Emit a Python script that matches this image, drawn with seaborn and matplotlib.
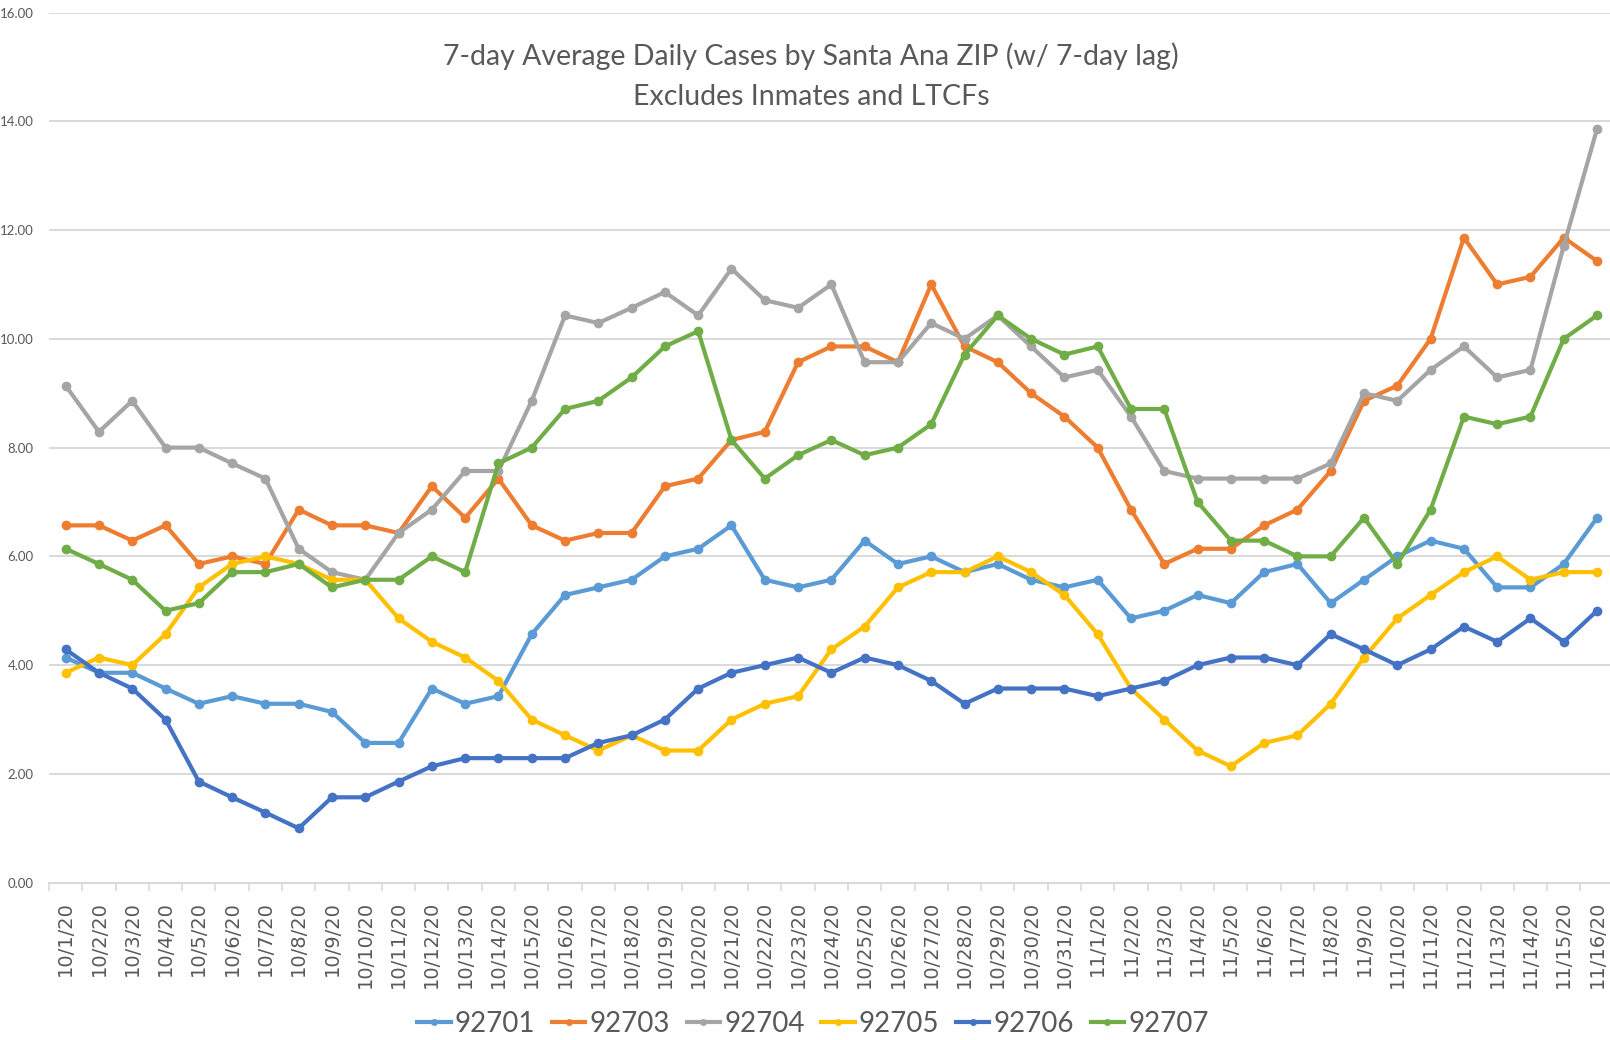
import matplotlib
matplotlib.use("Agg")
import matplotlib.pyplot as plt
from matplotlib import font_manager as fm
from matplotlib.lines import Line2D
from matplotlib.ticker import FixedLocator, NullFormatter
import seaborn as sns
import pandas as pd

dates = ["10/1/20", "10/2/20", "10/3/20", "10/4/20", "10/5/20", "10/6/20", "10/7/20",
         "10/8/20", "10/9/20", "10/10/20", "10/11/20", "10/12/20", "10/13/20", "10/14/20",
         "10/15/20", "10/16/20", "10/17/20", "10/18/20", "10/19/20", "10/20/20", "10/21/20",
         "10/22/20", "10/23/20", "10/24/20", "10/25/20", "10/26/20", "10/27/20", "10/28/20",
         "10/29/20", "10/30/20", "10/31/20", "11/1/20", "11/2/20", "11/3/20", "11/4/20",
         "11/5/20", "11/6/20", "11/7/20", "11/8/20", "11/9/20", "11/10/20", "11/11/20",
         "11/12/20", "11/13/20", "11/14/20", "11/15/20", "11/16/20"]

zip_92701 = [4.14, 3.86, 3.86, 3.57, 3.29, 3.43, 3.29, 3.29, 3.14, 2.57, 2.57, 3.57, 3.29, 3.43,
             4.57, 5.29, 5.43, 5.57, 6.00, 6.14, 6.57, 5.57, 5.43, 5.57, 6.29, 5.86, 6.00, 5.71,
             5.86, 5.57, 5.43, 5.57, 4.86, 5.00, 5.29, 5.14, 5.71, 5.86, 5.14, 5.57, 6.00, 6.29,
             6.14, 5.43, 5.43, 5.86, 6.71]
zip_92703 = [6.57, 6.57, 6.29, 6.57, 5.86, 6.00, 5.86, 6.86, 6.57, 6.57, 6.43, 7.29, 6.71, 7.43,
             6.57, 6.29, 6.43, 6.43, 7.29, 7.43, 8.14, 8.29, 9.57, 9.86, 9.86, 9.57, 11.00, 9.86,
             9.57, 9.00, 8.57, 8.00, 6.86, 5.86, 6.14, 6.14, 6.57, 6.86, 7.57, 8.86, 9.14, 10.00,
             11.86, 11.00, 11.14, 11.86, 11.43]
zip_92704 = [9.14, 8.29, 8.86, 8.00, 8.00, 7.71, 7.43, 6.14, 5.71, 5.57, 6.43, 6.86, 7.57, 7.57,
             8.86, 10.43, 10.29, 10.57, 10.86, 10.43, 11.29, 10.71, 10.57, 11.00, 9.57, 9.57, 10.29,
             10.00, 10.43, 9.86, 9.29, 9.43, 8.57, 7.57, 7.43, 7.43, 7.43, 7.43, 7.71, 9.00, 8.86,
             9.43, 9.86, 9.29, 9.43, 11.71, 13.86]
zip_92705 = [3.86, 4.14, 4.00, 4.57, 5.43, 5.86, 6.00, 5.86, 5.57, 5.57, 4.86, 4.43, 4.14, 3.71,
             3.00, 2.71, 2.43, 2.71, 2.43, 2.43, 3.00, 3.29, 3.43, 4.29, 4.71, 5.43, 5.71, 5.71,
             6.00, 5.71, 5.29, 4.57, 3.57, 3.00, 2.43, 2.14, 2.57, 2.71, 3.29, 4.14, 4.86, 5.29,
             5.71, 6.00, 5.57, 5.71, 5.71]
zip_92706 = [4.29, 3.86, 3.57, 3.00, 1.86, 1.57, 1.29, 1.00, 1.57, 1.57, 1.86, 2.14, 2.29, 2.29,
             2.29, 2.29, 2.57, 2.71, 3.00, 3.57, 3.86, 4.00, 4.14, 3.86, 4.14, 4.00, 3.71, 3.29,
             3.57, 3.57, 3.57, 3.43, 3.57, 3.71, 4.00, 4.14, 4.14, 4.00, 4.57, 4.29, 4.00, 4.29,
             4.71, 4.43, 4.86, 4.43, 5.00]
zip_92707 = [6.14, 5.86, 5.57, 5.00, 5.14, 5.71, 5.71, 5.86, 5.43, 5.57, 5.57, 6.00, 5.71, 7.71,
             8.00, 8.71, 8.86, 9.29, 9.86, 10.14, 8.14, 7.43, 7.86, 8.14, 7.86, 8.00, 8.43, 9.71,
             10.43, 10.00, 9.71, 9.86, 8.71, 8.71, 7.00, 6.29, 6.29, 6.00, 6.00, 6.71, 5.86, 6.86,
             8.57, 8.43, 8.57, 10.00, 10.43]

series_names = ["92701", "92703", "92704", "92705", "92706", "92707"]
series_values = [zip_92701, zip_92703, zip_92704, zip_92705, zip_92706, zip_92707]
series_colors = ["#5B9BD5", "#ED7D31", "#A5A5A5", "#FFC000", "#4472C4", "#70AD47"]
y_ticks = [0, 2, 4, 6, 8, 10, 12, 14, 16]
title_line1 = "7-day Average Daily Cases by Santa Ana ZIP (w/ 7-day lag)"
title_line2 = "Excludes Inmates and LTCFs"


def pick_font(candidates):
    for c in candidates:
        try:
            fm.findfont(fm.FontProperties(family=c), fallback_to_default=False)
            return c
        except Exception:
            continue
    return "DejaVu Sans"


calibri_like = pick_font(["Lato", "Open Sans", "DejaVu Sans"])

rows = []
for name, vals in zip(series_names, series_values):
    for i, v in enumerate(vals):
        rows.append({"idx": i, "value": v, "zip": name})
df = pd.DataFrame(rows)

fig = plt.figure(figsize=(16.1, 10.4), dpi=100)
ax = fig.add_axes([49 / 1610, 157.3 / 1040, 1564.7 / 1610, 870.2 / 1040])

text_grey = "#595959"
grid_grey = "#D9D9D9"

ax.set_axisbelow(True)
ax.yaxis.grid(True, color=grid_grey, linewidth=1.4)
ax.xaxis.grid(False)

sns.lineplot(data=df, x="idx", y="value", hue="zip", hue_order=series_names,
             palette=dict(zip(series_names, series_colors)), marker="o",
             markersize=7, markeredgewidth=0, linewidth=3.0, sort=False,
             legend=False, ax=ax)

ax.set_xlim(-0.5, len(dates) - 0.5)
ax.set_ylim(0, 16)
ax.set_xlabel("")
ax.set_ylabel("")

for s in ["top", "right", "left"]:
    ax.spines[s].set_visible(False)
ax.spines["bottom"].set_color(grid_grey)
ax.spines["bottom"].set_linewidth(1.4)

ax.set_xticks(range(len(dates)))
ax.set_xticklabels(dates, rotation=90, fontsize=14, color=text_grey,
                   family="DejaVu Sans", ha="center", va="top")
ax.tick_params(axis="x", which="major", length=0, pad=13)
ax.xaxis.set_minor_locator(FixedLocator([i - 0.5 for i in range(len(dates) + 1)]))
ax.xaxis.set_minor_formatter(NullFormatter())
ax.tick_params(axis="x", which="minor", length=6, width=1.2, color=grid_grey, direction="out")

ax.set_yticks(y_ticks)
ax.set_yticklabels([f"{t:.2f}" for t in y_ticks], fontsize=9.5, color=text_grey,
                   family=calibri_like)
ax.tick_params(axis="y", length=0, pad=11)

fig.text(811 / 1610, 1 - 65 / 1040, title_line1, ha="center", va="baseline",
         fontsize=20.5, color=text_grey, family=calibri_like)
fig.text(811 / 1610, 1 - 105 / 1040, title_line2, ha="center", va="baseline",
         fontsize=20.5, color=text_grey, family=calibri_like)

handles = [Line2D([0], [0], color=c, lw=3.0, marker="o", markersize=5, markeredgewidth=0)
           for c in series_colors]
fig.legend(handles, series_names, loc="center", bbox_to_anchor=(813 / 1610, 1 - 1024 / 1040),
           ncol=6, frameon=False, handlelength=1.2, handletextpad=0.15, columnspacing=0.6,
           prop={"family": calibri_like, "size": 20}, labelcolor=text_grey)

fig.savefig("out.png", dpi=100)
